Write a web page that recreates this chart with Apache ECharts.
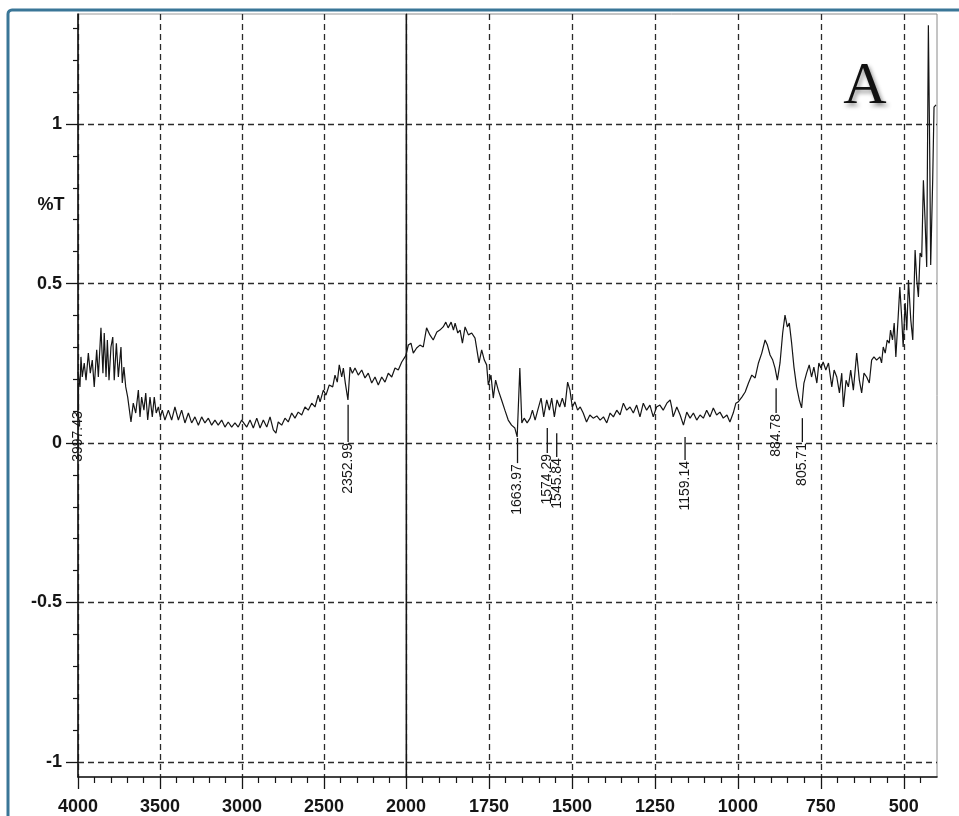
<!DOCTYPE html>
<html>
<head>
<meta charset="utf-8">
<script src="https://cdn.jsdelivr.net/npm/echarts@6/dist/echarts.min.js"></script>
<style>
  html, body { margin: 0; padding: 0; background: #fff; }
  #chart { width: 959px; height: 816px; }
</style>
</head>
<body>
<div id="chart"></div>
<script>
// FTIR spectrum, [wavenumber cm-1, %T]; the x scale changes at 2000
const spectrumHigh = [
  [4000,0.223],[3988,0.176],[3982,0.270],[3974,0.207],[3962,0.251],[3951,0.197],[3937,0.282],[3925,0.219],
  [3913,0.260],[3901,0.176],[3886,0.292],[3876,0.207],[3860,0.361],[3848,0.219],[3840,0.345],[3829,0.207],
  [3821,0.323],[3811,0.197],[3799,0.301],[3788,0.332],[3779,0.197],[3766,0.313],[3754,0.207],[3738,0.301],
  [3730,0.188],[3720,0.238],[3709,0.176],[3697,0.144],[3677,0.066],[3663,0.125],[3648,0.094],[3632,0.166],
  [3622,0.082],[3612,0.144],[3598,0.103],[3587,0.157],[3575,0.072],[3561,0.144],[3547,0.082],[3535,0.144],
  [3523,0.094],[3510,0.113],[3498,0.082],[3486,0.103],[3470,0.072],[3449,0.103],[3429,0.072],[3409,0.113],
  [3388,0.072],[3368,0.103],[3348,0.063],[3327,0.094],[3307,0.063],[3287,0.082],[3266,0.056],[3246,0.082],
  [3226,0.063],[3205,0.078],[3185,0.056],[3165,0.072],[3145,0.056],[3124,0.072],[3104,0.050],[3084,0.066],
  [3063,0.050],[3043,0.063],[3023,0.050],[3002,0.072],[2971,0.050],[2951,0.072],[2931,0.047],[2910,0.078],
  [2890,0.047],[2870,0.072],[2849,0.050],[2829,0.082],[2809,0.041],[2793,0.031],[2779,0.066],[2758,0.056],
  [2738,0.078],[2718,0.066],[2697,0.094],[2677,0.078],[2657,0.097],[2636,0.088],[2616,0.113],[2596,0.103],
  [2575,0.125],[2555,0.113],[2535,0.150],[2524,0.129],[2504,0.166],[2488,0.150],[2468,0.182],[2447,0.176],
  [2433,0.213],[2419,0.191],[2407,0.245],[2392,0.207],[2382,0.235],[2370,0.188],[2354,0.135],[2341,0.238],
  [2327,0.219],[2311,0.235],[2291,0.213],[2270,0.229],[2250,0.204],[2230,0.219],[2209,0.188],[2189,0.207],
  [2169,0.182],[2148,0.207],[2128,0.191],[2108,0.219],[2087,0.207],[2067,0.235],[2047,0.229],[2026,0.254],
  [2006,0.270],[2000,0.276]
];

const spectrumLow = [
  [2000,0.276],[1993,0.307],[1985,0.313],[1978,0.282],[1968,0.298],[1958,0.307],[1948,0.301],[1938,0.361],
  [1928,0.339],[1918,0.323],[1907,0.348],[1898,0.354],[1888,0.364],[1880,0.379],[1873,0.361],[1864,0.379],
  [1857,0.354],[1852,0.376],[1844,0.345],[1837,0.354],[1830,0.313],[1822,0.364],[1812,0.339],[1802,0.345],
  [1792,0.329],[1787,0.332],[1780,0.251],[1772,0.292],[1764,0.260],[1757,0.245],[1752,0.182],[1744,0.213],
  [1737,0.141],[1730,0.197],[1722,0.166],[1712,0.135],[1702,0.103],[1692,0.072],[1682,0.056],[1672,0.047],
  [1665,0.019],[1657,0.235],[1651,0.063],[1644,0.078],[1635,0.063],[1626,0.078],[1619,0.103],[1611,0.072],
  [1603,0.103],[1593,0.141],[1585,0.082],[1576,0.135],[1568,0.103],[1561,0.141],[1553,0.082],[1545,0.135],
  [1537,0.113],[1529,0.141],[1521,0.113],[1513,0.191],[1506,0.166],[1499,0.113],[1491,0.129],[1483,0.103],
  [1475,0.113],[1466,0.094],[1456,0.066],[1446,0.088],[1436,0.078],[1425,0.085],[1415,0.072],[1405,0.082],
  [1395,0.063],[1385,0.094],[1375,0.082],[1365,0.103],[1355,0.088],[1345,0.125],[1335,0.103],[1325,0.113],
  [1315,0.094],[1305,0.119],[1295,0.082],[1285,0.125],[1275,0.103],[1265,0.119],[1255,0.082],[1245,0.113],
  [1235,0.119],[1225,0.103],[1214,0.125],[1204,0.135],[1199,0.110],[1195,0.082],[1184,0.113],[1174,0.088],
  [1164,0.056],[1154,0.097],[1144,0.078],[1134,0.094],[1124,0.072],[1114,0.088],[1104,0.078],[1094,0.103],
  [1084,0.082],[1074,0.110],[1064,0.088],[1054,0.097],[1044,0.078],[1033,0.088],[1024,0.066],[1014,0.094],
  [1006,0.125],[999,0.129],[988,0.144],[978,0.160],[968,0.188],[958,0.213],[948,0.204],[938,0.251],
  [928,0.282],[918,0.323],[911,0.307],[903,0.276],[895,0.260],[888,0.235],[881,0.197],[873,0.251],
  [865,0.345],[858,0.401],[851,0.364],[845,0.376],[838,0.313],[831,0.238],[823,0.176],[815,0.135],
  [808,0.110],[801,0.188],[793,0.219],[785,0.245],[778,0.207],[771,0.238],[762,0.188],[756,0.251],
  [750,0.235],[743,0.254],[735,0.229],[727,0.251],[717,0.176],[710,0.229],[702,0.207],[694,0.157],
  [687,0.219],[682,0.113],[674,0.197],[667,0.176],[660,0.229],[652,0.166],[642,0.282],[634,0.197],
  [627,0.157],[620,0.219],[612,0.207],[604,0.188],[597,0.260],[590,0.270],[582,0.260],[572,0.270],
  [567,0.251],[562,0.301],[556,0.282],[550,0.323],[544,0.313],[540,0.354],[534,0.323],[529,0.376],
  [524,0.270],[517,0.395],[512,0.489],[506,0.386],[502,0.301],[496,0.439],[491,0.354],[486,0.511],
  [479,0.386],[473,0.323],[466,0.605],[461,0.511],[456,0.458],[451,0.596],[446,0.583],[441,0.824],
  [436,0.699],[431,0.552],[426,1.310],[422,0.918],[419,0.558],[413,0.824],[409,1.053],[403,1.060]
];

// peak picks: [wavenumber, leader top %T, leader bottom %T]
const peaksHigh = [[3997.43, 0.188, 0.103], [2352.99, 0.120, 0.003]];
const peaksLow = [
  [1663.97, 0.016, -0.063], [1574.29, 0.047, -0.031], [1545.84, 0.031, -0.044],
  [1159.14, 0.019, -0.053], [884.78, 0.172, 0.094], [805.71, 0.078, 0.003]
];
const peakTextHigh = ['3997.43', '2352.99'];
const peakTextLow = ['1663.97', '1574.29', '1545.84', '1159.14', '884.78', '805.71'];

const xTicksHigh = [4000, 3500, 3000, 2500];
const xTicksLow = [2000, 1750, 1500, 1250, 1000, 750, 500];
const yTicks = [-1, -0.5, 0, 0.5, 1];

const Y_MIN = -1.047, Y_MAX = 1.345;
const AXIS_FONT = '"Liberation Sans", Arial, sans-serif';
const INK = '#151515';

function minorTicks(from, to, step, majors) {
  const out = [];
  for (let v = from; v <= to + 1e-9; v += step) {
    const r = Math.round(v * 1000) / 1000;
    if (!majors.some(m => Math.abs(m - r) < 1e-6)) out.push(r);
  }
  return out;
}

const dashed = { show: true, lineStyle: { color: '#2b2b2b', width: 1.3, type: [6, 4] } };
const noLine = { show: false };
const labelStyle = { fontSize: 18, fontWeight: 'bold', fontFamily: AXIS_FONT, color: INK, formatter: v => String(v) };

function majorX(grid, min, max, ticks) {
  return {
    gridIndex: grid, type: 'value', min: min, max: max, inverse: true, position: 'bottom',
    axisLine: { onZero: false, lineStyle: { color: INK, width: 1.6 } },
    axisTick: { customValues: ticks, length: 12, lineStyle: { color: INK, width: 1.3 } },
    axisLabel: Object.assign({ customValues: ticks, margin: 21 }, labelStyle),
    splitLine: dashed
  };
}
function minorX(grid, min, max, ticks) {
  return {
    gridIndex: grid, type: 'value', min: min, max: max, inverse: true, position: 'bottom',
    axisLine: { show: false, onZero: false },
    axisTick: { customValues: ticks, length: 6, lineStyle: { color: INK, width: 1.2 } },
    axisLabel: { show: false }, splitLine: noLine
  };
}

function peakRenderer(texts) {
  return function (params, api) {
    const top = api.coord([api.value(0), api.value(1)]);
    const bot = api.coord([api.value(0), api.value(2)]);
    return {
      type: 'group',
      children: [
        { type: 'line', shape: { x1: top[0], y1: top[1], x2: bot[0], y2: bot[1] },
          style: { stroke: INK, lineWidth: 1.3 } },
        { type: 'text', x: bot[0], y: bot[1] + 1, rotation: Math.PI / 2,
          style: { text: texts[params.dataIndex], align: 'right', verticalAlign: 'middle',
            font: '14px "Liberation Sans", Arial, sans-serif', fill: INK } }
      ]
    };
  };
}

const chart = echarts.init(document.getElementById('chart'), null, { renderer: 'canvas' });
chart.setOption({
  animation: false,
  backgroundColor: '#fff',
  grid: [
    { left: 78, top: 14, width: 328, height: 763, show: true, borderColor: '#9a9a9a', borderWidth: 1, outerBoundsMode: 'none' },
    { left: 406, top: 14, width: 531, height: 763, show: true, borderColor: '#8a8a8a', borderWidth: 1, outerBoundsMode: 'none' }
  ],
  xAxis: [
    majorX(0, 2000, 4000, xTicksHigh),
    minorX(0, 2000, 4000, minorTicks(2100, 3900, 100, xTicksHigh)),
    majorX(1, 400, 2000, xTicksLow),
    minorX(1, 400, 2000, minorTicks(450, 1950, 50, xTicksLow))
  ],
  yAxis: [
    {
      gridIndex: 0, type: 'value', min: Y_MIN, max: Y_MAX, position: 'left',
      axisLine: { show: true, onZero: false, lineStyle: { color: INK, width: 1.6 } },
      axisTick: { show: true, customValues: yTicks, length: 12, lineStyle: { color: INK, width: 1.3 } },
      axisLabel: Object.assign({ customValues: yTicks, margin: 16 }, labelStyle),
      splitLine: dashed
    },
    {
      gridIndex: 0, type: 'value', min: Y_MIN, max: Y_MAX, position: 'left',
      axisLine: { show: false, onZero: false },
      axisTick: { show: true, customValues: minorTicks(-1, 1.3, 0.1, yTicks), length: 5, lineStyle: { color: INK, width: 1.2 } },
      axisLabel: { show: false }, splitLine: noLine
    },
    {
      gridIndex: 1, type: 'value', min: Y_MIN, max: Y_MAX, position: 'left',
      axisLine: { show: true, onZero: false, lineStyle: { color: INK, width: 1.2 } },
      axisTick: { show: false, customValues: yTicks },
      axisLabel: { show: false },
      splitLine: dashed
    }
  ],
  graphic: [
    { type: 'rect', shape: { x: 8, y: 10, width: 960, height: 820, r: 4 }, z: 100,
      style: { fill: 'none', stroke: '#3a7697', lineWidth: 3 } },
    { type: 'text', x: 865, y: 87, z: 100,
      style: { text: 'A', font: '60px "Liberation Serif", "Times New Roman", serif', fill: '#111',
        align: 'center', verticalAlign: 'middle',
        textShadowColor: 'rgba(0,0,0,0.45)', textShadowBlur: 4, textShadowOffsetX: 2, textShadowOffsetY: 3 } },
    { type: 'text', x: 51, y: 205, z: 100,
      style: { text: '%T', font: 'bold 18px ' + AXIS_FONT, fill: INK, align: 'center', verticalAlign: 'middle' } }
  ],
  series: [
    { type: 'line', xAxisIndex: 0, yAxisIndex: 0, data: spectrumHigh, showSymbol: false, symbol: 'none',
      lineStyle: { color: INK, width: 1.2 } },
    { type: 'line', xAxisIndex: 2, yAxisIndex: 2, data: spectrumLow, showSymbol: false, symbol: 'none',
      lineStyle: { color: INK, width: 1.2 } },
    { type: 'custom', xAxisIndex: 0, yAxisIndex: 0, data: peaksHigh, renderItem: peakRenderer(peakTextHigh) },
    { type: 'custom', xAxisIndex: 2, yAxisIndex: 2, data: peaksLow, renderItem: peakRenderer(peakTextLow) }
  ]
});
</script>
</body>
</html>
